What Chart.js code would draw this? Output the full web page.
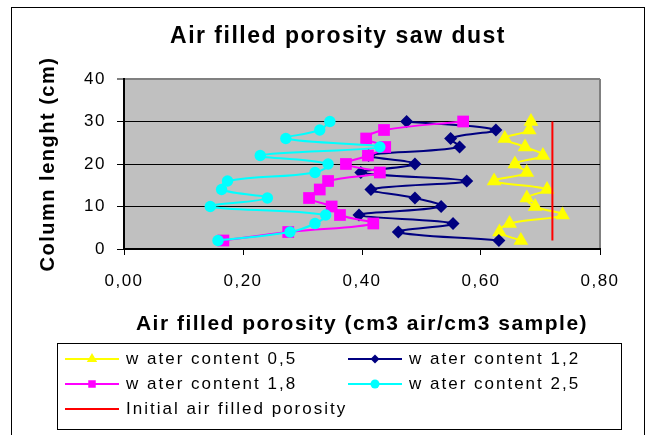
<!DOCTYPE html>
<html>
<head>
<meta charset="utf-8">
<title>Air filled porosity saw dust</title>
<script src="https://cdn.jsdelivr.net/npm/chart.js"></script>
<style>
  html, body { margin: 0; padding: 0; background: #fff; }
  canvas { display: block; }
</style>
</head>
<body>
<canvas id="grafico" width="656" height="435"></canvas>
<script>
// profundidade da coluna (cm) de cada amostra, de cima para baixo
const profundidade = [30, 28, 26, 24, 22, 20, 18, 16, 14, 12, 10, 8, 6, 4, 2];

// porosidade de ar (cm3 ar / cm3 amostra) por teor de água
const agua05 = [0.684, 0.681, 0.640, 0.674, 0.704, 0.657, 0.677, 0.622, 0.711, 0.677, 0.691, 0.737, 0.648, 0.631, 0.667];
const agua12 = [0.475, 0.625, 0.549, 0.564, 0.411, 0.489, 0.398, 0.576, 0.415, 0.489, 0.533, 0.395, 0.553, 0.461, 0.630];
const agua18 = [0.570, 0.437, 0.407, 0.439, 0.410, 0.373, 0.430, 0.343, 0.329, 0.311, 0.349, 0.363, 0.419, 0.276, 0.167];
const agua25 = [0.346, 0.329, 0.272, 0.430, 0.229, 0.343, 0.321, 0.174, 0.164, 0.241, 0.145, 0.339, 0.321, 0.279, 0.158];

// porosidade inicial (linha vertical)
const inicialX = [0.72, 0.72];
const inicialY = [30, 2];

const nomes = ['w ater content 0,5', 'w ater content 1,2', 'w ater content 1,8', 'w ater content 2,5', 'Initial air filled porosity'];
const rotulosX = ['0,00', '0,20', '0,40', '0,60', '0,80'];
const rotulosY = ['0', '10', '20', '30', '40'];

const fonte = "'Liberation Sans', Arial, sans-serif";
Chart.defaults.font.family = fonte;
Chart.defaults.font.size = 17;
Chart.defaults.color = '#000';

function pontos(xs, ys) {
    return xs.map((x, i) => ({ x: x, y: ys[i] }));
}

function serie(nome, valores, cor, estilo, raio, legRaio, ordem) {
    return {
        label: nome,
        data: pontos(valores, profundidade),
        showLine: true,
        borderColor: cor,
        backgroundColor: cor,
        borderWidth: 2,
        tension: 0.4,
        pointStyle: estilo,
        pointRadius: raio,
        pointBorderWidth: 0,
        legRaio: legRaio,
        order: ordem
    };
}

// espaçamento das letras parecido com o do Excel
const espacamento = {
    id: 'espacamento',
    beforeLayout(chart) { chart.ctx.letterSpacing = '1.5px'; },
    beforeDraw(chart) { chart.ctx.letterSpacing = '1.5px'; }
};

// fundo cinza da área do gráfico e moldura externa
const fundo = {
    id: 'fundo',
    beforeDraw(chart) {
        const { ctx, chartArea: a } = chart;
        ctx.save();
        ctx.fillStyle = '#c0c0c0';
        ctx.fillRect(a.left, a.top, a.right - a.left, a.bottom - a.top);
        ctx.strokeStyle = '#808080';
        ctx.lineWidth = 2;
        ctx.beginPath();
        ctx.moveTo(a.right, a.top);
        ctx.lineTo(a.right, a.bottom);
        ctx.stroke();
        ctx.strokeStyle = '#000';
        ctx.lineWidth = 1;
        ctx.strokeRect(11.5, 7.5, 633, 500);
        ctx.restore();
    }
};

// legenda em duas colunas com linha + marcador
const legenda = {
    id: 'legenda',
    afterDraw(chart) {
        const ctx = chart.ctx;
        const caixa = { x: 57.5, y: 343.5, w: 564, h: 86 };
        ctx.save();
        ctx.strokeStyle = '#000';
        ctx.lineWidth = 1;
        ctx.strokeRect(caixa.x, caixa.y, caixa.w, caixa.h);
        ctx.font = '17px ' + fonte;
        ctx.letterSpacing = '2px';
        ctx.textBaseline = 'middle';
        chart.data.datasets.forEach((ds, i) => {
            const col = i % 2, lin = Math.floor(i / 2);
            const x0 = caixa.x + 7.5 + col * 283;
            const y0 = caixa.y + 15.5 + lin * 25;
            ctx.strokeStyle = ds.borderColor;
            ctx.fillStyle = ds.borderColor;
            ctx.lineWidth = 2;
            ctx.beginPath();
            ctx.moveTo(x0, y0);
            ctx.lineTo(x0 + 54, y0);
            ctx.stroke();
            if (ds.legRaio) {
                Chart.helpers.drawPoint(ctx, { pointStyle: ds.pointStyle, radius: ds.legRaio, rotation: 0, borderWidth: 0 }, x0 + 27, y0);
            }
            ctx.fillStyle = '#000';
            ctx.fillText(ds.label, x0 + 61, y0);
        });
        ctx.restore();
    }
};

new Chart(document.getElementById('grafico'), {
    type: 'scatter',
    data: {
        datasets: [
            serie(nomes[0], agua05, '#ffff00', 'triangle', 8.5, 6, 4),
            serie(nomes[1], agua12, '#000080', 'rectRot', 6.5, 4.5, 3),
            serie(nomes[2], agua18, '#ff00ff', 'rect', 8.3, 5.3, 2),
            serie(nomes[3], agua25, '#00ffff', 'circle', 5.7, 4.5, 1),
            {
                label: nomes[4],
                data: pontos(inicialX, inicialY),
                showLine: true,
                borderColor: '#ff0000',
                backgroundColor: '#ff0000',
                borderWidth: 2,
                pointRadius: 0,
                order: 0
            }
        ]
    },
    options: {
        responsive: false,
        animation: false,
        devicePixelRatio: 1,
        layout: { padding: { left: 20, right: 0, top: 0, bottom: 96 } },
        plugins: {
            legend: { display: false },
            tooltip: { enabled: false },
            title: {
                display: true,
                text: 'Air filled porosity saw dust',
                font: { size: 23, weight: 'bold' },
                padding: { top: 23, bottom: 28.4 }
            }
        },
        scales: {
            x: {
                min: 0,
                max: 0.8,
                afterFit(s) { s.height = 90; },
                ticks: {
                    stepSize: 0.2,
                    padding: 16,
                    maxRotation: 0,
                    callback: (v, i) => rotulosX[i]
                },
                grid: { drawOnChartArea: false, drawTicks: true, tickLength: 6, color: '#000' },
                border: { color: '#000', width: 2 },
                title: {
                    display: true,
                    text: 'Air filled porosity (cm3 air/cm3 sample)',
                    font: { size: 21, weight: 'bold' },
                    padding: { top: 0, bottom: 2 }
                }
            },
            y: {
                min: 0,
                max: 40,
                afterFit(s) { s.width = 104; },
                ticks: {
                    stepSize: 10,
                    padding: 11,
                    callback: (v, i) => rotulosY[i]
                },
                grid: {
                    tickLength: 7,
                    color: c => (c.tick && c.tick.value === 40 ? '#808080' : '#000'),
                    lineWidth: c => (c.tick && c.tick.value === 40 ? 2 : 1)
                },
                border: { color: '#000', width: 2 },
                title: {
                    display: true,
                    text: 'Column lenght (cm)',
                    font: { size: 20, weight: 'bold' },
                    padding: { top: 16, bottom: 0 }
                }
            },
            // espaço à direita da área do gráfico
            y2: {
                position: 'right',
                afterFit(s) { s.width = 56; },
                ticks: { display: false },
                grid: { display: false },
                border: { display: false }
            }
        }
    },
    plugins: [espacamento, fundo, legenda]
});
</script>
</body>
</html>
